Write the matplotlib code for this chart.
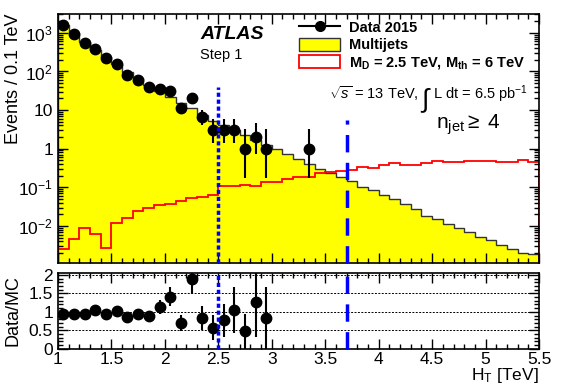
import numpy as np
import matplotlib
matplotlib.use("Agg")
import matplotlib.pyplot as plt
from matplotlib.lines import Line2D
from matplotlib.patches import Patch
from matplotlib.ticker import MultipleLocator, LogLocator, NullFormatter, FuncFormatter

plt.rcParams['font.family'] = ['Liberation Sans', 'DejaVu Sans']
plt.rcParams['mathtext.fontset'] = 'custom'
plt.rcParams['mathtext.rm'] = 'Liberation Sans'
plt.rcParams['mathtext.it'] = 'Liberation Sans:italic'
plt.rcParams['mathtext.bf'] = 'Liberation Sans:bold'

# bins of 0.1 TeV from 1.0 to 5.5
edges = np.linspace(1.0, 5.5, 46)

# multijet background (events / 0.1 TeV)
multijets = [1630, 970, 580, 363, 232, 153, 98, 66, 45, 31,
             22, 15.7, 11.2, 7.5, 5.3, 4.0, 3.1, 2.2, 1.65, 1.25,
             0.96, 0.71, 0.54, 0.41, 0.30, 0.24, 0.18, 0.145, 0.103, 0.085,
             0.063, 0.049, 0.038, 0.028, 0.018, 0.0148, 0.0112, 0.0087, 0.0068, 0.0053,
             0.0043, 0.0033, 0.0026, 0.0020, 0.0019]

# signal M_D = 2.5 TeV, M_th = 6 TeV
signal = [0.0026, 0.0045, 0.0091, 0.0063, 0.0027, 0.0122, 0.0163, 0.0245, 0.029, 0.034,
          0.038, 0.044, 0.054, 0.057, 0.065, 0.107, 0.107, 0.116, 0.107, 0.136,
          0.136, 0.16, 0.18, 0.187, 0.237, 0.247, 0.267, 0.278, 0.34, 0.32,
          0.375, 0.43, 0.37, 0.375, 0.43, 0.475, 0.45, 0.45, 0.475, 0.475,
          0.49, 0.46, 0.46, 0.51, 0.455]

# data 2015
data_x = [1.05, 1.15, 1.25, 1.35, 1.45, 1.55, 1.65, 1.75, 1.85, 1.95,
          2.05, 2.15, 2.25, 2.35, 2.45, 2.55, 2.65, 2.75, 2.85, 2.95, 3.35]
data_y = [1550, 920, 550, 385, 220, 156, 83, 61, 40, 35,
          31, 11, 21, 6.5, 3, 3, 3, 1, 2, 1, 1]
data_lo = [39, 30, 23, 20, 15, 12.5, 9, 7.8, 6.3, 5.9,
           5.5, 3.3, 4.6, 2.5, 1.63, 1.63, 1.63, 0.83, 1.29, 0.83, 0.83]
data_hi = [40, 31, 24, 20, 15, 13, 10, 8.8, 7.4, 6.9,
           6.6, 4.4, 5.6, 3.6, 2.9, 2.9, 2.9, 2.3, 2.6, 2.3, 2.3]

# ratio Data/MC
ratio_x = data_x[:20]
ratio = [0.95, 0.95, 0.95, 1.06, 0.95, 1.02, 0.85, 0.93, 0.88, 1.12,
         1.40, 0.70, 1.88, 0.82, 0.57, 0.77, 1.04, 0.48, 1.26, 0.83]
ratio_lo = [0.02, 0.03, 0.04, 0.05, 0.06, 0.08, 0.09, 0.11, 0.13, 0.17,
            0.25, 0.22, 0.41, 0.31, 0.33, 0.44, 0.62, 0.48, 0.93, 0.83]
ratio_hi = [0.02, 0.03, 0.04, 0.05, 0.07, 0.08, 0.10, 0.12, 0.15, 0.20,
            0.28, 0.22, 0.45, 0.35, 0.34, 0.45, 0.62, 0.47, 1.0, 0.83]

# cut lines
cut_x = [2.5, 3.7]
cut_top = [40, 5.5]
cut_style = [(0, (1.2, 0.8)), (0, (5, 3))]

ymin, ymax = 1.1e-3, 3.1e3

fig = plt.figure(figsize=(5.68, 3.85), dpi=100)
ax = fig.add_axes([0.102, 0.317, 0.847, 0.647])
axr = fig.add_axes([0.102, 0.094, 0.847, 0.197])

# main panel
ax.stairs(multijets, edges, fill=True, color='#ffff00', baseline=1e-5)
ax.stairs(multijets, edges, color='#333333', lw=1.0, baseline=1e-5)
ax.stairs(signal, edges, color='#ff0000', lw=1.3, baseline=1e-5)
ax.errorbar(data_x, data_y, yerr=[data_lo, data_hi], fmt='o', color='black',
            ms=7.5, lw=1.5, capsize=0, zorder=5)
for x, top, ls in zip(cut_x, cut_top, cut_style):
    ax.vlines(x, ymin, top, colors='#0000ff', lw=2.5, linestyles=[ls], zorder=6)
    axr.axvline(x, color='#0000ff', lw=2.5, linestyle=ls, zorder=6)

ax.set_yscale('log')
ax.set_xlim(1.0, 5.5)
ax.set_ylim(ymin, ymax)
ax.set_yticks([1e-2, 1e-1, 1, 10, 1e2, 1e3])
ax.set_yticklabels(['$10^{-2}$', '$10^{-1}$', '1', '10', '$10^{2}$', '$10^{3}$'])
ax.yaxis.set_minor_locator(LogLocator(base=10, subs=np.arange(2, 10)))
ax.yaxis.set_minor_formatter(NullFormatter())
ax.xaxis.set_major_locator(MultipleLocator(0.5))
ax.xaxis.set_minor_locator(MultipleLocator(0.1))
ax.tick_params(labelbottom=False)
ax.set_ylabel('Events / 0.1 TeV', fontsize=13, loc='top')

handles = [Line2D([], [], color='black', marker='o', ms=7, lw=1.5),
           Patch(facecolor='#ffff00', edgecolor='#333333'),
           Patch(facecolor='white', edgecolor='#ff0000', lw=1.3)]
labels = ['Data 2015', 'Multijets', r'$\mathbf{M_{D}}$ = 2.5 TeV, $\mathbf{M_{th}}$ = 6 TeV']
ax.legend(handles, labels, loc='upper left', bbox_to_anchor=(0.514, 0.966),
          bbox_transform=fig.transFigure, frameon=False,
          prop={'weight': 'bold', 'size': 10.5}, handlelength=2.8,
          handleheight=1.0, labelspacing=0.2, borderpad=0, handletextpad=0.6)

fig.text(0.352, 0.898, 'ATLAS', fontsize=14, fontweight='bold', style='italic')
fig.text(0.352, 0.848, 'Step 1', fontsize=10.5)
fig.text(0.580, 0.742, r'$\sqrt{s}$ = 13 TeV,', fontsize=10.5)
fig.text(0.739, 0.722, r'$\int$', fontsize=19)
fig.text(0.763, 0.742, r'L dt = 6.5 pb$^{-1}$', fontsize=10.5)
fig.text(0.768, 0.665, r'n$_{\mathrm{jet}}$$\geq$ 4', fontsize=15)

# ratio panel
axr.errorbar(ratio_x, ratio, yerr=[ratio_lo, ratio_hi], fmt='o', color='black',
             ms=7.5, lw=1.5, capsize=0, zorder=5)
axr.set_xlim(1.0, 5.5)
axr.set_ylim(0, 2.05)
axr.set_yticks([0, 0.5, 1, 1.5, 2])
axr.yaxis.set_major_formatter(FuncFormatter(lambda v, p: '%g' % v))
axr.yaxis.set_minor_locator(MultipleLocator(0.1))
axr.xaxis.set_major_locator(MultipleLocator(0.5))
axr.xaxis.set_minor_locator(MultipleLocator(0.1))
axr.xaxis.set_major_formatter(FuncFormatter(lambda v, p: '%g' % v))
for yv in [0.5, 1, 1.5, 2]:
    axr.axhline(yv, color='black', lw=0.7, linestyle=(0, (2, 1.5)), zorder=1)
axr.set_ylabel('Data/MC', fontsize=13)
fig.text(0.949, 0.012, r'H$_{\mathrm{T}}$ [TeV]', fontsize=12.5, ha='right', va='baseline')

for a in (ax, axr):
    a.tick_params(which='both', direction='in', top=True, right=True, labelsize=12.5)
    a.tick_params(which='major', length=7, width=1)
    a.tick_params(which='minor', length=3.5, width=1)
    for s in a.spines.values():
        s.set_linewidth(1.2)
axr.tick_params(axis='x', which='major', pad=2)
ax.yaxis.set_label_coords(-0.075, 1.0)
axr.yaxis.set_label_coords(-0.075, 0.5)

fig.savefig('out.png', dpi=100)
